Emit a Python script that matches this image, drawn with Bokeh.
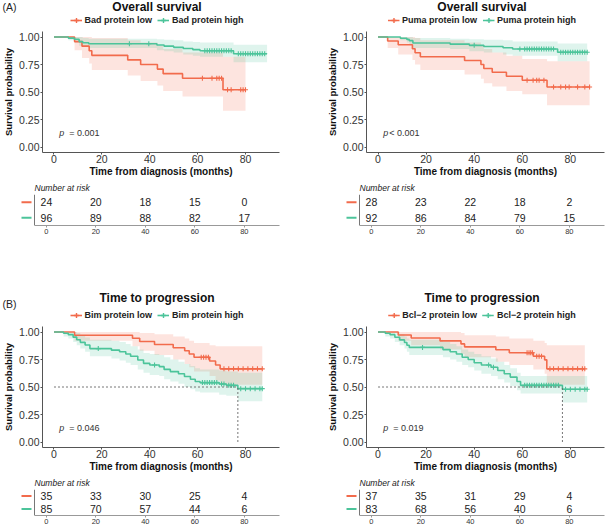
import numpy as np
from bokeh.plotting import figure
from bokeh.layouts import column, row
from bokeh.models import Range1d, FixedTicker, Legend, LegendItem, Label, NumeralTickFormatter, Span
from bokeh.embed import file_html
from bokeh.resources import INLINE
from bokeh.core.properties import value

RED = "#F26B4C"
GREEN = "#4CC49A"
FONT = "Liberation Sans"
AX = "#555555"
TXT = "#333333"

# ---------------- data ----------------
time_ticks = [0, 20, 40, 60, 80]
surv_ticks = [0, 0.25, 0.5, 0.75, 1.0]

# (A) Overall survival - Bad
bad_low_t = [0, 8.6, 11.7, 14.7, 15.8, 30.8, 36.2, 43.2, 45.6, 53.7, 70.6, 80.0]
bad_low_s = [1, 0.958, 0.917, 0.875, 0.833, 0.792, 0.750, 0.708, 0.667, 0.625, 0.521, 0.521]
bad_low_lo = [1, 0.88, 0.81, 0.76, 0.70, 0.65, 0.60, 0.56, 0.51, 0.46, 0.33, 0.33]
bad_low_hi = [1, 1.0, 1.0, 1.0, 0.99, 0.97, 0.95, 0.92, 0.89, 0.86, 0.82, 0.82]
bad_low_cens = [62, 66, 68, 69, 70, 72.5, 74, 78, 79, 80]
bad_high_t = [0, 6, 8.5, 10.5, 12, 14.5, 43, 46, 50, 54, 58, 61, 75, 89]
bad_high_s = [1, 0.990, 0.979, 0.958, 0.948, 0.938, 0.927, 0.917, 0.906, 0.896, 0.885, 0.875, 0.848, 0.848]
bad_high_lo = [1, 0.97, 0.95, 0.92, 0.91, 0.90, 0.88, 0.87, 0.86, 0.84, 0.83, 0.82, 0.77, 0.77]
bad_high_hi = [1, 1, 1, 1, 0.99, 0.985, 0.98, 0.975, 0.97, 0.96, 0.955, 0.95, 0.93, 0.93]
bad_high_cens = [31.5, 39.6, 63, 64, 65, 66, 67, 68, 69, 70, 71, 72, 73, 74,
                 77, 78, 79, 80, 81, 82, 83, 84, 85, 86, 87, 88]
bad_risk_low = [24, 20, 18, 15, 0]
bad_risk_high = [96, 89, 88, 82, 17]

# (A) Overall survival - Puma
puma_low_t = [0, 4, 8.4, 14.3, 15.4, 17.6, 36, 42.8, 44, 47.5, 53.4, 60, 70.3, 88]
puma_low_s = [1, 0.964, 0.929, 0.893, 0.857, 0.821, 0.786, 0.750, 0.714, 0.679, 0.643, 0.607, 0.546, 0.546]
puma_low_lo = [1, 0.90, 0.84, 0.79, 0.75, 0.70, 0.66, 0.62, 0.58, 0.55, 0.51, 0.48, 0.38, 0.38]
puma_low_hi = [1, 1, 1, 1, 0.99, 0.97, 0.95, 0.92, 0.89, 0.86, 0.83, 0.80, 0.78, 0.78]
puma_low_cens = [62, 64.5, 66, 67, 69, 73, 76, 78, 79.5, 83, 86, 88]
puma_high_t = [0, 9.3, 12, 13, 14.5, 30, 38, 44, 52, 56, 74.7, 87]
puma_high_s = [1, 0.989, 0.978, 0.967, 0.946, 0.935, 0.924, 0.913, 0.902, 0.891, 0.861, 0.861]
puma_high_lo = [1, 0.97, 0.95, 0.93, 0.90, 0.89, 0.87, 0.86, 0.84, 0.83, 0.78, 0.78]
puma_high_hi = [1, 1, 1, 1, 0.99, 0.985, 0.98, 0.975, 0.97, 0.96, 0.94, 0.94]
puma_high_cens = [40, 59, 61, 62, 63, 64, 65, 66, 67, 68, 69, 70, 71, 72, 73,
                  76, 77, 78, 79, 80, 81, 82, 83, 84, 85, 86, 87]
puma_risk_low = [28, 23, 22, 18, 2]
puma_risk_high = [92, 86, 84, 79, 15]

# (B) Time to progression - Bim
bim_low_t = [0, 8.6, 32.8, 35.8, 42, 49.8, 54.6, 56.5, 58.5, 65, 67.5, 69.4, 87]
bim_low_s = [1, 0.971, 0.943, 0.914, 0.886, 0.857, 0.829, 0.800, 0.771, 0.736, 0.700, 0.665, 0.665]
bim_low_lo = [1, 0.92, 0.87, 0.83, 0.79, 0.75, 0.71, 0.68, 0.64, 0.60, 0.56, 0.52, 0.52]
bim_low_hi = [1, 1, 1, 0.99, 0.98, 0.96, 0.94, 0.92, 0.90, 0.88, 0.87, 0.87, 0.87]
bim_low_cens = [61.5, 62.5, 63.5, 64.5, 71, 73, 75, 77, 79, 81, 83, 85, 87]
bim_high_t = [0, 4, 6, 8, 9.5, 11, 13, 15, 24, 27.4, 30, 32, 35, 37.4, 40, 44, 46, 48.6, 52, 54.5,
              57, 59, 61, 69, 72, 76.8, 87]
bim_high_s = [1, 0.988, 0.976, 0.953, 0.929, 0.906, 0.882, 0.849, 0.835, 0.820, 0.800, 0.780, 0.745,
              0.715, 0.700, 0.685, 0.660, 0.640, 0.620, 0.595, 0.570, 0.550, 0.540, 0.527, 0.515, 0.485, 0.485]
bim_high_lo = [1, 0.96, 0.94, 0.91, 0.88, 0.85, 0.82, 0.78, 0.76, 0.74, 0.72, 0.70, 0.66, 0.63, 0.61,
               0.60, 0.57, 0.55, 0.53, 0.50, 0.48, 0.46, 0.45, 0.43, 0.42, 0.37, 0.37]
bim_high_hi = [1, 1, 1, 1, 0.99, 0.97, 0.95, 0.93, 0.92, 0.91, 0.89, 0.87, 0.84, 0.81, 0.80, 0.79,
               0.77, 0.75, 0.73, 0.71, 0.69, 0.67, 0.66, 0.65, 0.64, 0.63, 0.63]
bim_high_cens = [18.5, 42, 62, 63, 64, 65, 66, 67, 68, 70, 71, 73, 74, 75, 78, 80, 82, 84, 86, 87]
bim_risk_low = [35, 33, 30, 25, 4]
bim_risk_high = [85, 70, 57, 44, 6]

# (B) Time to progression - Bcl-2
bcl_low_t = [0, 8.4, 13.8, 25.8, 34.5, 36, 49, 54.6, 64.6, 69.3, 70.2, 86]
bcl_low_s = [1, 0.973, 0.946, 0.919, 0.892, 0.865, 0.838, 0.811, 0.780, 0.747, 0.665, 0.665]
bcl_low_lo = [1, 0.92, 0.88, 0.84, 0.80, 0.77, 0.73, 0.70, 0.66, 0.62, 0.52, 0.52]
bcl_low_hi = [1, 1, 1, 1, 0.99, 0.97, 0.96, 0.94, 0.92, 0.90, 0.88, 0.88]
bcl_low_cens = [62, 62.8, 63.5, 64.2, 66, 67, 68, 71.5, 73, 75, 77, 79, 81, 83, 85, 86]
bcl_high_t = [0, 3, 5, 7, 9, 11, 12, 13, 27, 30, 32.6, 35, 37.5, 40, 43, 47, 49.8, 52.5, 55, 57.8,
              59.3, 76.7, 87]
bcl_high_s = [1, 0.988, 0.976, 0.952, 0.928, 0.904, 0.880, 0.860, 0.840, 0.820, 0.800, 0.770, 0.750,
              0.720, 0.700, 0.680, 0.650, 0.620, 0.590, 0.550, 0.515, 0.480, 0.480]
bcl_high_lo = [1, 0.96, 0.94, 0.91, 0.88, 0.85, 0.82, 0.79, 0.77, 0.75, 0.73, 0.70, 0.68, 0.65, 0.62,
               0.60, 0.57, 0.54, 0.51, 0.47, 0.44, 0.36, 0.36]
bcl_high_hi = [1, 1, 1, 1, 0.98, 0.96, 0.94, 0.93, 0.91, 0.89, 0.87, 0.84, 0.82, 0.80, 0.78, 0.76,
               0.73, 0.70, 0.67, 0.63, 0.60, 0.60, 0.60]
bcl_high_cens = [18.5, 46, 48, 61, 62, 63, 64, 65, 66, 67, 68, 69, 70, 71, 72, 73, 74, 75,
                 78, 80, 82, 84, 86, 87]
bcl_risk_low = [37, 35, 31, 29, 4]
bcl_risk_high = [83, 68, 56, 40, 6]

# ---------------- layout constants ----------------
XR = (-4.8, 94.2)
FRAME_W = 245
PX_PER_MONTH = FRAME_W / (XR[1] - XR[0])
RISK_EXTRA = 14                      # px left of the axis line used by the coloured keys
XR_RISK = (XR[0] - RISK_EXTRA / PX_PER_MONTH, XR[1])

LW, RW = 324, 281
LBL, RBL = 34, 35
HLW = int(2 * (LBL + FRAME_W / 2))          # left header, centred on left frame
HRB = int(2 * (LW + RBL + FRAME_W / 2) - HLW - (LW + RW))   # right header blank border
NAN = np.array([np.nan])


def step_at(t, s, c):
    t = np.asarray(t, dtype=float)
    s = np.asarray(s, dtype=float)
    idx = np.searchsorted(t, np.asarray(c, dtype=float), side="right") - 1
    return s[idx]


def header_fig(width, height, border_left, title, labels, title_y, legend_y, tag=None, tag_y=None):
    fw = width - border_left
    p = figure(width=width, height=height, x_range=Range1d(0, fw), y_range=Range1d(height, 0),
               output_backend="svg", toolbar_location=None, x_axis_location=None,
               y_axis_location=None, min_border_left=border_left, min_border_right=0,
               min_border_top=0, min_border_bottom=0)
    p.outline_line_color = None
    p.xgrid.visible = False
    p.ygrid.visible = False
    p.text(x=[fw / 2], y=[title_y], text=[title], text_align="center", text_baseline="middle",
           text_font=value(FONT), text_font_size="12px", text_font_style="bold",
           text_color="#111111")
    if tag:
        p.text(x=[2 - border_left], y=[tag_y], text=[tag], text_align="left",
               text_baseline="middle", text_font=value(FONT), text_font_size="10.5px",
               text_color="#222222")
    items = []
    for lab, col in zip(labels, (RED, GREEN)):
        r1 = p.line(x=NAN, y=NAN, line_color=col, line_width=1.6)
        r2 = p.scatter(x=NAN, y=NAN, marker="cross", size=7, line_color=col, line_width=1.4)
        items.append(LegendItem(label=lab, renderers=[r1, r2]))
    leg = Legend(items=items, location="top_center", orientation="horizontal",
                 border_line_color=None, background_fill_alpha=0, padding=0,
                 margin=int(legend_y - 6), spacing=5, glyph_width=12, glyph_height=12,
                 label_standoff=3, label_height=12,
                 label_text_font=FONT, label_text_font_size="9px", label_text_font_style="bold",
                 label_text_color="#222222", label_text_baseline="middle")
    p.add_layout(leg, "center")
    return p


def km_fig(width, height, bl, bt, bb, curves, psym, pval, median=False):
    p = figure(width=width, height=height, x_range=Range1d(*XR), y_range=Range1d(-0.05, 1.05),
               output_backend="svg", toolbar_location=None,
               min_border_left=bl, min_border_right=width - bl - FRAME_W,
               min_border_top=bt, min_border_bottom=bb)
    p.outline_line_color = None
    p.xgrid.visible = False
    p.ygrid.visible = False

    for (t, s, lo, hi, cens, color) in curves:
        p.varea_step(x=t, y1=lo, y2=hi, step_mode="after", fill_color=color, fill_alpha=0.18)
    for (t, s, lo, hi, cens, color) in curves:
        p.step(x=t, y=s, mode="after", line_color=color, line_width=1.6)
        p.scatter(x=cens, y=step_at(t, s, cens), marker="cross", size=5,
                  line_color=color, line_width=1.1)

    if median:
        t, s = curves[1][0], curves[1][1]
        med = float(np.asarray(t)[np.argmax(np.asarray(s) <= 0.5)])
        p.line(x=[0, med], y=[0.5, 0.5], line_dash="2 2", line_color="#666666", line_width=0.9)
        p.line(x=[med, med], y=[0, 0.5], line_dash="2 2", line_color="#666666", line_width=0.9)

    for ax in (p.xaxis, p.yaxis):
        ax.axis_line_color = AX
        ax.major_tick_line_color = AX
        ax.major_tick_out = 2
        ax.major_tick_in = 0
        ax.minor_tick_line_color = None
        ax.major_label_text_font = FONT
        ax.major_label_text_font_size = "10.5px"
        ax.major_label_text_color = TXT
        ax.axis_label_text_font = FONT
        ax.axis_label_text_font_style = "bold"
        ax.axis_label_text_color = "#111111"
        ax.major_label_standoff = 1
        ax.axis_label_standoff = 2
    p.xaxis.major_label_standoff = 0
    p.xaxis.axis_label_standoff = 0
    p.xaxis.ticker = FixedTicker(ticks=time_ticks)
    p.yaxis.ticker = FixedTicker(ticks=surv_ticks)
    p.yaxis.formatter = NumeralTickFormatter(format="0.00")
    p.xaxis.axis_label = "Time from diagnosis (months)"
    p.yaxis.axis_label = "Survival probability"
    p.xaxis.axis_label_text_font_size = "10px"
    p.yaxis.axis_label_text_font_size = "9.5px"

    p.add_layout(Label(x=2.2, y=0.13, text="p", text_font=FONT, text_font_size="9px",
                       text_font_style="italic", text_color=TXT, text_baseline="middle"))
    p.add_layout(Label(x=2.2, y=0.13, x_offset=psym[1], text=psym[0] + " " + pval,
                       text_font=FONT, text_font_size="9px", text_color=TXT,
                       text_baseline="middle"))
    return p


def risk_fig(width, bl_axis, height, bt, bb, low, high):
    bl = bl_axis - RISK_EXTRA
    fw = FRAME_W + RISK_EXTRA
    p = figure(width=width, height=height, x_range=Range1d(*XR_RISK), y_range=Range1d(0.5, 2.5),
               output_backend="svg", toolbar_location=None, y_axis_location=None,
               min_border_left=bl, min_border_right=width - bl - fw,
               min_border_top=bt, min_border_bottom=bb)
    p.outline_line_color = None
    p.xgrid.visible = False
    p.ygrid.visible = False
    p.title.text = "Number at risk"
    p.title.align = "left"
    p.title.offset = RISK_EXTRA
    p.title.text_font = FONT
    p.title.text_font_size = "8.5px"
    p.title.text_font_style = "italic"
    p.title.text_color = "#222222"
    p.title.standoff = 3
    for yy, nums, col in ((2, low, RED), (1, high, GREEN)):
        p.text(x=time_ticks, y=[yy] * len(time_ticks), text=[str(v) for v in nums],
               text_font_size="10.5px", text_align="center", text_baseline="middle",
               text_color="#222222", text_font=value(FONT))
        p.scatter(x=[XR[0] - 8 / PX_PER_MONTH], y=[yy], marker="dash", size=10,
                  line_color=col, line_width=2)
    p.add_layout(Span(location=XR[0], dimension="height", line_color="#777777", line_width=1))
    p.xaxis.bounds = XR
    p.xaxis.ticker = FixedTicker(ticks=time_ticks)
    p.xaxis.axis_line_color = "#999999"
    p.xaxis.major_tick_line_color = "#999999"
    p.xaxis.major_tick_out = 2
    p.xaxis.major_tick_in = 0
    p.xaxis.minor_tick_line_color = None
    p.xaxis.major_label_text_font = FONT
    p.xaxis.major_label_text_font_size = "7.5px"
    p.xaxis.major_label_text_color = TXT
    p.xaxis.major_label_standoff = 1
    return p


bad_curves = [(bad_low_t, bad_low_s, bad_low_lo, bad_low_hi, bad_low_cens, RED),
              (bad_high_t, bad_high_s, bad_high_lo, bad_high_hi, bad_high_cens, GREEN)]
puma_curves = [(puma_low_t, puma_low_s, puma_low_lo, puma_low_hi, puma_low_cens, RED),
               (puma_high_t, puma_high_s, puma_high_lo, puma_high_hi, puma_high_cens, GREEN)]
bim_curves = [(bim_low_t, bim_low_s, bim_low_lo, bim_low_hi, bim_low_cens, RED),
              (bim_high_t, bim_high_s, bim_high_lo, bim_high_hi, bim_high_cens, GREEN)]
bcl_curves = [(bcl_low_t, bcl_low_s, bcl_low_lo, bcl_low_hi, bcl_low_cens, RED),
              (bcl_high_t, bcl_high_s, bcl_high_lo, bcl_high_hi, bcl_high_cens, GREEN)]

HRW = LW + RW - HLW

ha1 = header_fig(HLW, 31, 0, "Overall survival",
                 ["Bad protein low", "Bad protein high"], 6, 20, tag="(A)", tag_y=6)
ha2 = header_fig(HRW, 31, HRB, "Overall survival",
                 ["Puma protein low", "Puma protein high"], 6, 20)
a1 = km_fig(LW, 148, LBL, 0, 26, bad_curves, ("=", 10), "0.001")
a2 = km_fig(RW, 148, RBL, 0, 26, puma_curves, ("<", 6), "0.001")
ra1 = risk_fig(LW, LBL, 59, 14, 13, bad_risk_low, bad_risk_high)
ra2 = risk_fig(RW, RBL, 59, 14, 13, puma_risk_low, puma_risk_high)

hb1 = header_fig(HLW, 88, 0, "Time to progression",
                 ["Bim protein low", "Bim protein high"], 59, 77, tag="(B)", tag_y=65)
hb2 = header_fig(HRW, 88, HRB, "Time to progression",
                 ["Bcl\u22122 protein low", "Bcl\u22122 protein high"], 59, 77)
b1 = km_fig(LW, 148, LBL, 0, 26, bim_curves, ("=", 10), "0.046", median=True)
b2 = km_fig(RW, 148, RBL, 0, 26, bcl_curves, ("=", 10), "0.019", median=True)
rb1 = risk_fig(LW, LBL, 52, 12, 10, bim_risk_low, bim_risk_high)
rb2 = risk_fig(RW, RBL, 52, 12, 10, bcl_risk_low, bcl_risk_high)

layout = column(row(ha1, ha2), row(a1, a2), row(ra1, ra2),
                row(hb1, hb2), row(b1, b2), row(rb1, rb2), spacing=0)

open("out.html", "w").write(file_html(layout, INLINE))
